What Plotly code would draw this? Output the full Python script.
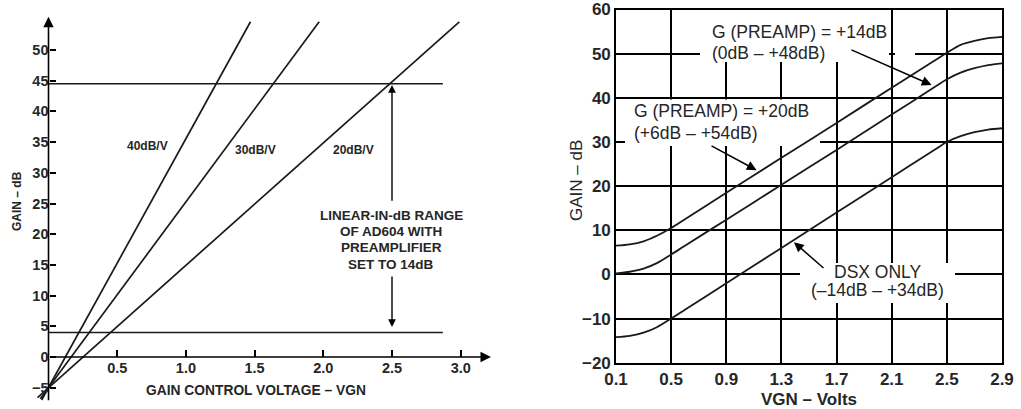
import plotly.graph_objects as go

W, H = 1021, 409
FONT = "Liberation Sans, Arial, sans-serif"
INK = "#1a1a1a"
TXT = "#262626"

# ---------------- Left chart data ----------------
slope_labels = ["40dB/V", "30dB/V", "20dB/V"]
slope_x_start = [-0.05, -0.06, -0.08]
slope_y_start = [-7.0, -6.8, -6.6]
slope_x_end = [1.47, 1.97, 2.99]
slope_y_end = [54.6, 54.6, 54.6]
slope_label_x = [0.72, 1.51, 2.22]
slope_label_y = [34.3, 33.7, 33.7]

range_levels = [44.5, 4.0]          # limits of the linear-in-dB range
range_x = [0.0, 2.87]
range_marker_v = 2.5
range_note = ["LINEAR-IN-dB RANGE", "OF AD604 WITH", "PREAMPLIFIER", "SET TO 14dB"]
range_note_y = [23.1, 20.5, 17.8, 15.0]

left_yticks = [-5, 0, 5, 10, 15, 20, 25, 30, 35, 40, 45, 50]
left_ytext = ["\u22125", "0", "5", "10", "15", "20", "25", "30", "35", "40", "45", "50"]
left_xticks = [0.5, 1.0, 1.5, 2.0, 2.5, 3.0]
left_xtext = ["0.5", "1.0", "1.5", "2.0", "2.5", "3.0"]

# ---------------- Right chart data ----------------
vgn = [0.1, 0.2, 0.3, 0.4, 0.5, 0.6, 0.9, 1.3, 1.7, 2.1, 2.4, 2.5, 2.6, 2.7, 2.8, 2.9]
gain_pre20 = [6.5, 6.8, 7.5, 8.8, 10.5, 12.5, 18.5, 26.4, 34.3, 42.3, 48.2, 50.2, 52.0, 52.9, 53.5, 53.8]
gain_pre14 = [0.2, 0.6, 1.3, 2.6, 4.5, 6.5, 12.4, 20.3, 28.2, 36.2, 42.2, 44.2, 45.7, 46.7, 47.4, 47.8]
gain_dsx = [-14.2, -13.9, -13.2, -11.9, -10.0, -8.0, -2.0, 6.0, 14.0, 22.0, 28.0, 30.0, 31.3, 32.2, 32.8, 33.1]

right_xticks = [0.1, 0.5, 0.9, 1.3, 1.7, 2.1, 2.5, 2.9]
right_xtext = ["0.1", "0.5", "0.9", "1.3", "1.7", "2.1", "2.5", "2.9"]
right_yticks = [-20, -10, 0, 10, 20, 30, 40, 50, 60]
right_ytext = ["\u221220", "\u221210", "0", "10", "20", "30", "40", "50", "60"]

# callouts: text lines (x, y, anchor) and arrow (tail -> tip)
callout_text = [
    ("G (PREAMP) = +14dB", 0.782, 54.97, "left"),
    ("(0dB \u2013 +48dB)", 0.782, 50.2, "left"),
    ("G (PREAMP) = +20dB", 0.216, 36.98, "left"),
    ("(+6dB \u2013 +54dB)", 0.216, 32.06, "left"),
    ("DSX ONLY", 2.0, 0.54, "center"),
    ("(\u201314dB \u2013 +34dB)", 2.0, -3.6, "center"),
]
callout_tail_x = [1.797, 0.782, 1.616]
callout_tail_y = [51.0, 29.3, 1.16]
callout_tip_x = [2.389, 1.120, 1.391]
callout_tip_y = [42.9, 23.6, 7.28]

# ---------------- geometry (pixels) ----------------
def px_x(p):
    return p / W

def px_y(p):
    return 1 - p / H

L_X0, L_XS = 48.5, 137.4      # px of 0 V, px per volt
L_Y0, L_YS = 357.0, 6.14      # px of 0 dB, px per dB
l_xrange = [-0.09, 3.3]
l_yrange = [-7.5, 56.5]
l_xdom = [px_x(L_X0 + L_XS * l_xrange[0]), px_x(L_X0 + L_XS * l_xrange[1])]
l_ydom = [px_y(L_Y0 - L_YS * l_yrange[0]), px_y(L_Y0 - L_YS * l_yrange[1])]

r_xdom = [px_x(616), px_x(1002)]
r_ydom = [px_y(362.7), px_y(9.5)]

fig = go.Figure()

for i in range(3):
    fig.add_trace(go.Scatter(x=[slope_x_start[i], slope_x_end[i]], y=[slope_y_start[i], slope_y_end[i]],
                             mode="lines", line=dict(color=INK, width=1.7),
                             xaxis="x", yaxis="y", hoverinfo="skip", showlegend=False))
for lv in range_levels:
    fig.add_trace(go.Scatter(x=range_x, y=[lv, lv], mode="lines", line=dict(color=INK, width=1.5),
                             xaxis="x", yaxis="y", hoverinfo="skip", showlegend=False))

for g in (gain_pre20, gain_pre14, gain_dsx):
    fig.add_trace(go.Scatter(x=vgn, y=g, mode="lines", line=dict(color=INK, width=1.8, shape="spline", smoothing=0.8),
                             xaxis="x2", yaxis="y2", hoverinfo="skip", showlegend=False))

ann = []

def arrow(xref, yref, x, y, ax, ay, size=1.0, width=1.5):
    return dict(x=x, y=y, ax=ax, ay=ay, xref=xref, yref=yref, axref=xref, ayref=yref,
                text="", showarrow=True, arrowhead=2, arrowsize=size, arrowwidth=width,
                arrowcolor="black", standoff=0, startstandoff=0)

def label(text, x, y, xref, yref, font, xanchor="center", angle=0):
    return dict(x=x, y=y, xref=xref, yref=yref, text=text, showarrow=False, font=font,
                xanchor=xanchor, yanchor="middle", textangle=angle)

# left axes drawn as arrows
ann.append(arrow("x", "y", 3.22, 0, 0, 0, size=1.3, width=1.6))
ann.append(arrow("x", "y", 0, 55.4, 0, -7.3, size=1.3, width=1.6))
# range double arrow
ann.append(arrow("x", "y", range_marker_v, 44.3, range_marker_v, 25.2, size=1.1, width=1.4))
ann.append(arrow("x", "y", range_marker_v, 4.9, range_marker_v, 13.35, size=1.1, width=1.4))

lfont = dict(family=FONT, size=13.5, color=TXT, weight="bold")
sfont = dict(family=FONT, size=12, color=TXT, weight="bold")
tfont = dict(family=FONT, size=14.5, color=TXT, weight="bold")
for t, x, y in zip(slope_labels, slope_label_x, slope_label_y):
    ann.append(label(t, x, y, "x", "y", sfont))
for t, y in zip(range_note, range_note_y):
    ann.append(label(t, range_marker_v - 0.005, y, "x", "y", lfont))

ann.append(label("GAIN \u2013 dB", px_x(17), px_y(201), "paper", "paper",
                 dict(family=FONT, size=12, color=TXT, weight="bold"), angle=-90))
ann.append(label("GAIN CONTROL VOLTAGE \u2013 VGN", px_x(256), px_y(390), "paper", "paper",
                 dict(family=FONT, size=13.8, color=TXT, weight="bold")))

# right chart callouts
rfont = dict(family=FONT, size=17.5, color=TXT)
for t, x, y, anc in callout_text:
    ann.append(label(t, x, y, "x2", "y2", rfont, xanchor=anc))
for i in range(3):
    ann.append(arrow("x2", "y2", callout_tip_x[i], callout_tip_y[i], callout_tail_x[i], callout_tail_y[i],
                     size=1.3, width=1.5))

ann.append(label("GAIN \u2013 dB", px_x(576), px_y(181), "paper", "paper",
                 dict(family=FONT, size=17, color=TXT), angle=-90))
ann.append(label("VGN \u2013 Volts", px_x(809), px_y(399), "paper", "paper",
                 dict(family=FONT, size=17, color=TXT, weight="bold")))

# white masks that interrupt the grid behind the callout text
def rx(p):
    return 0.1 + (p - 616) / 137.86

def ry(p):
    return 60 - (p - 9.5) / 4.415

masks = [(700, 889, 10, 62), (895, 915, 50.5, 57), (625, 820, 99.5, 146), (800, 955, 263, 303)]
shapes = []
for x0, x1, y0, y1 in masks:
    shapes.append(dict(type="rect", xref="x2", yref="y2", x0=rx(x0), x1=rx(x1), y0=ry(y1), y1=ry(y0),
                       fillcolor="white", line=dict(width=0), layer="between"))

fig.update_layout(
    width=W, height=H, margin=dict(l=0, r=0, t=0, b=0),
    paper_bgcolor="white", plot_bgcolor="white", showlegend=False,
    annotations=ann, shapes=shapes,
    xaxis=dict(domain=l_xdom, range=l_xrange, anchor="free", position=px_y(L_Y0),
               showgrid=False, zeroline=False, showline=False,
               tickmode="array", tickvals=left_xticks, ticktext=left_xtext,
               ticks="inside", ticklen=7, tickwidth=1.5, tickcolor="black",
               tickfont=tfont, automargin=False),
    yaxis=dict(domain=l_ydom, range=l_yrange, anchor="free", position=px_x(L_X0),
               showgrid=False, zeroline=False, showline=False,
               tickmode="array", tickvals=left_yticks, ticktext=left_ytext,
               ticks="inside", ticklen=6, tickwidth=1.5, tickcolor="black",
               tickfont=tfont, automargin=False),
    xaxis2=dict(domain=r_xdom, range=[0.1, 2.9], anchor="y2",
                showgrid=True, gridcolor="black", gridwidth=1.5, zeroline=False,
                showline=True, mirror=True, linecolor="black", linewidth=1.6,
                tickmode="array", tickvals=right_xticks, ticktext=right_xtext, ticks="",
                tickfont=dict(family=FONT, size=17, color=TXT, weight="bold"), automargin=False),
    yaxis2=dict(domain=r_ydom, range=[-20, 60], anchor="x2",
                showgrid=True, gridcolor="black", gridwidth=1.5, zeroline=False,
                showline=True, mirror=True, linecolor="black", linewidth=1.6,
                tickmode="array", tickvals=right_yticks, ticktext=right_ytext, ticks="",
                tickfont=dict(family=FONT, size=17, color=TXT, weight="bold"), automargin=False),
)

fig.write_html("out.html", config={"displayModeBar": False},
               post_script="document.body.style.margin='0';document.body.style.overflow='hidden';")
